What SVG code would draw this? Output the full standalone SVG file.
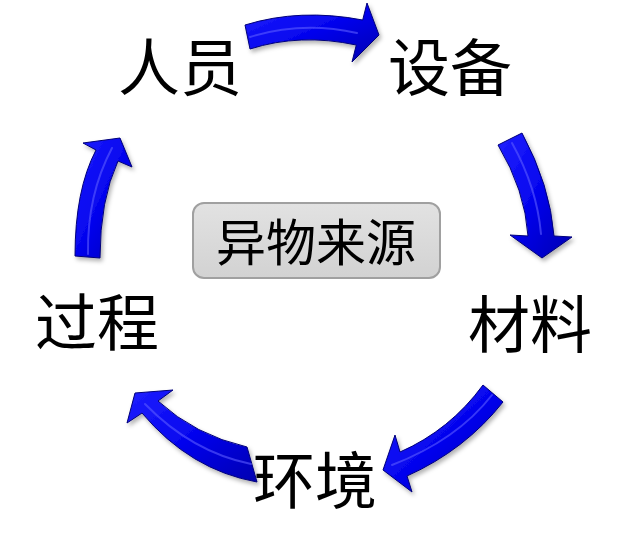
<svg xmlns="http://www.w3.org/2000/svg" width="630" height="552" viewBox="0 0 630 552">
<defs>
<style>
.lbl{font-family:"Noto Sans CJK SC","Noto Sans",sans-serif;font-size:62px;fill:#000;text-anchor:middle}
.ctr{font-family:"Noto Sans CJK SC","Noto Sans",sans-serif;font-size:50px;fill:#000;text-anchor:middle}
.arr{fill:url(#blue);stroke:#00007a;stroke-width:1;stroke-linejoin:round;filter:url(#sh)}
.hl{fill:none;stroke:#5c5cff;stroke-width:2;stroke-linecap:round;opacity:0.6}
</style>
<linearGradient id="blue" x1="0" y1="0" x2="1" y2="1">
<stop offset="0" stop-color="#1f1fff"/>
<stop offset="0.5" stop-color="#0505ee"/>
<stop offset="1" stop-color="#0000b0"/>
</linearGradient>
<linearGradient id="box" x1="0" y1="0" x2="0" y2="1">
<stop offset="0" stop-color="#e2e2e2"/>
<stop offset="1" stop-color="#d2d2d2"/>
</linearGradient>
<filter id="sh" x="-20%" y="-20%" width="140%" height="140%">
<feDropShadow dx="2" dy="3" stdDeviation="2" flood-color="#000" flood-opacity="0.3"/>
</filter>
</defs>
<rect width="630" height="552" fill="#fff"/>
<g id="connectors">
<g id="arrow-renyuan-shebei">
<path class="arr" d="M245,25 Q300,8 362.7,20 L367,3 L379,35 L352,62 L356.3,45 Q300,33 250,49 Z"/>
<path class="hl" d="M250,37 Q302,21 357,33"/>
</g>
<g id="arrow-shebei-cailiao">
<path class="arr" d="M498,145 L522,133 Q550,185 554,236 L572,237 L542,258 L510,235 L528,236 Q525,190 498,145 Z"/>
<path class="hl" d="M512,143 Q537,188 541,234"/>
</g>
<g id="arrow-cailiao-huanjing">
<path class="arr" d="M483,385 L503,402 Q465,450 407,476 L412,492 L383,470 L395,435 L400,452 Q450,430 483,385 Z"/>
<path class="hl" d="M492,395 Q457,440 392,465"/>
</g>
<g id="arrow-huanjing-guocheng">
<path class="arr" d="M257,482 L247,447 Q195,435 158,401 L173,390 L135,393 L127,423 L142,413 Q190,470 257,482 Z"/>
<path class="hl" d="M251,464 Q192,452 145,404"/>
</g>
<g id="arrow-guocheng-renyuan">
<path class="arr" d="M75,256 L100,258 Q100,200 118,161 L132,167 L120,138 L83,143 L96,150 Q75,190 75,256 Z"/>
<path class="hl" d="M88,254 Q87,195 112,148"/>
</g>
</g>
<g id="node-center">
<rect x="193" y="203" width="247" height="75" rx="11" fill="url(#box)" stroke="#a0a0a0" stroke-width="2"/>
<text class="ctr" x="316" y="261">异物来源</text>
</g>
<g id="node-renyuan"><text class="lbl" x="180" y="91">人员</text></g>
<g id="node-shebei"><text class="lbl" x="450" y="91">设备</text></g>
<g id="node-cailiao"><text class="lbl" x="530" y="348">材料</text></g>
<g id="node-huanjing"><text class="lbl" x="315" y="504">环境</text></g>
<g id="node-guocheng"><text class="lbl" x="97" y="346">过程</text></g>
</svg>
